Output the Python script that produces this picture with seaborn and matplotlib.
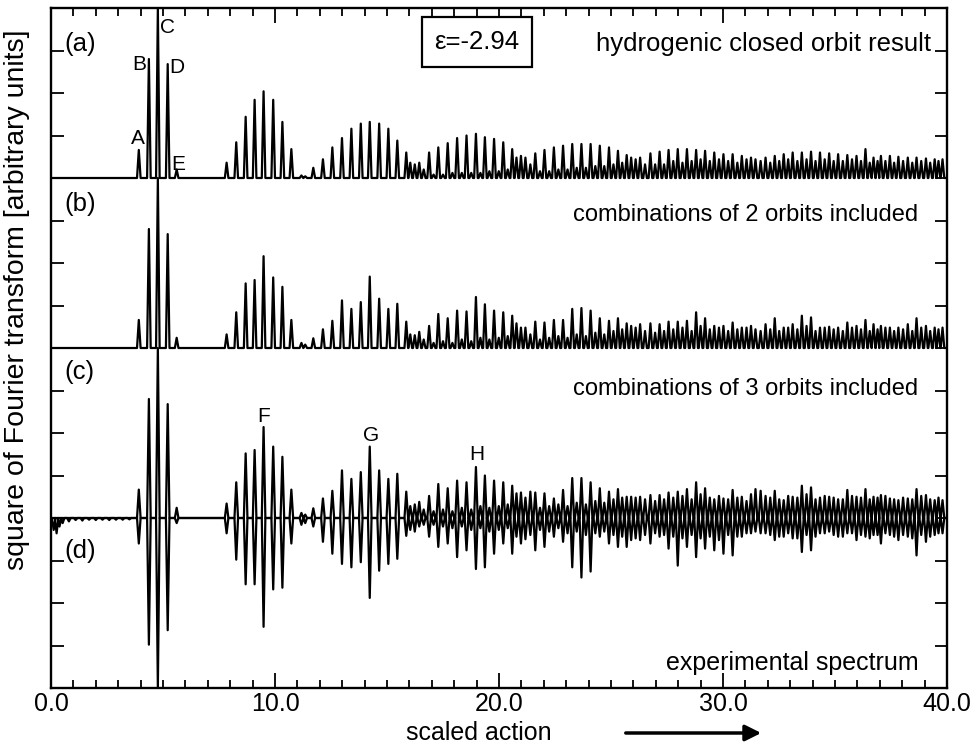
import numpy as np
import seaborn as sns
import matplotlib.pyplot as plt
from matplotlib.patches import FancyArrowPatch
from matplotlib.ticker import MultipleLocator, FormatStrFormatter

# Peak positions (scaled action) of the main closed-orbit peaks
peak_x = [3.92, 4.37, 4.77, 5.21, 5.61,
          7.84, 8.27, 8.69, 9.09, 9.49, 9.92, 10.33, 10.73,
          11.71, 12.14, 12.56, 12.99, 13.41, 13.83, 14.23, 14.65, 15.06, 15.46, 15.86,
          16.88, 17.29, 17.71, 18.13, 18.55, 18.97, 19.37, 19.78, 20.19, 20.59,
          21.62, 22.03, 22.45, 22.86, 23.27, 23.68, 24.09, 24.50, 24.91, 25.31, 25.70,
          26.76, 27.17, 27.57, 27.98, 28.39, 28.80, 29.20, 29.61, 30.02, 30.43, 30.84,
          31.90, 32.31, 32.71, 33.11, 33.52, 33.93, 34.33, 34.74, 35.14, 35.55, 35.96, 36.36,
          36.72, 37.05, 37.45, 37.83, 38.25, 38.64, 39.06, 39.45, 39.80]

# (a) hydrogenic closed orbit result
peak_a = [0.165, 0.70, 1.0, 0.67, 0.05,
          0.09, 0.21, 0.36, 0.46, 0.51, 0.46, 0.33, 0.17,
          0.06, 0.11, 0.18, 0.235, 0.29, 0.32, 0.33, 0.32, 0.29, 0.22, 0.15,
          0.15, 0.18, 0.205, 0.235, 0.25, 0.26, 0.24, 0.23, 0.21, 0.17,
          0.145, 0.165, 0.18, 0.19, 0.20, 0.20, 0.20, 0.19, 0.18, 0.16, 0.135,
          0.145, 0.155, 0.165, 0.17, 0.17, 0.165, 0.16, 0.15, 0.14, 0.14, 0.13,
          0.12, 0.13, 0.14, 0.15, 0.15, 0.155, 0.15, 0.145, 0.14, 0.135, 0.13, 0.17,
          0.12, 0.13, 0.13, 0.125, 0.12, 0.12, 0.115, 0.11, 0.11]

# (b) combinations of 2 orbits
peak_b = [0.165, 0.70, 1.0, 0.67, 0.06,
          0.08, 0.21, 0.38, 0.40, 0.54, 0.415, 0.36, 0.165,
          0.057, 0.11, 0.16, 0.28, 0.23, 0.27, 0.42, 0.29, 0.23, 0.26, 0.155,
          0.13, 0.20, 0.175, 0.22, 0.215, 0.30, 0.257, 0.22, 0.21, 0.19,
          0.155, 0.15, 0.165, 0.165, 0.23, 0.235, 0.22, 0.175, 0.16, 0.175, 0.145,
          0.145, 0.14, 0.155, 0.155, 0.16, 0.21, 0.175, 0.13, 0.13, 0.15, 0.12,
          0.14, 0.175, 0.12, 0.14, 0.19, 0.18, 0.12, 0.125, 0.12, 0.15, 0.13, 0.165,
          0.14, 0.13, 0.12, 0.12, 0.14, 0.175, 0.13, 0.12, 0.12]

# (c) combinations of 3 orbits
peak_c = [0.167, 0.70, 1.0, 0.67, 0.06,
          0.085, 0.21, 0.38, 0.40, 0.535, 0.42, 0.36, 0.167,
          0.057, 0.115, 0.16, 0.28, 0.23, 0.27, 0.42, 0.28, 0.23, 0.26, 0.155,
          0.13, 0.20, 0.175, 0.22, 0.21, 0.30, 0.25, 0.22, 0.21, 0.19,
          0.15, 0.145, 0.115, 0.165, 0.235, 0.235, 0.21, 0.175, 0.155, 0.17, 0.125,
          0.135, 0.135, 0.15, 0.155, 0.17, 0.21, 0.175, 0.11, 0.115, 0.165, 0.125,
          0.13, 0.16, 0.105, 0.125, 0.19, 0.18, 0.12, 0.125, 0.11, 0.165, 0.125, 0.17,
          0.125, 0.135, 0.115, 0.105, 0.115, 0.17, 0.135, 0.105, 0.105]

# (d) experimental spectrum, plotted downwards
peak_d = [-0.15, -0.745, -1.0, -0.66, -0.03,
          -0.09, -0.245, -0.39, -0.39, -0.64, -0.42, -0.41, -0.15,
          -0.05, -0.14, -0.21, -0.27, -0.29, -0.26, -0.47, -0.31, -0.27, -0.24, -0.105,
          -0.11, -0.17, -0.15, -0.23, -0.19, -0.30, -0.29, -0.21, -0.15, -0.21,
          -0.19, -0.17, -0.11, -0.14, -0.29, -0.35, -0.315, -0.11, -0.15, -0.17, -0.17,
          -0.15, -0.11, -0.18, -0.28, -0.17, -0.23, -0.18, -0.19, -0.21, -0.22, -0.11,
          -0.09, -0.13, -0.11, -0.12, -0.20, -0.19, -0.09, -0.08, -0.11, -0.09, -0.13, -0.11,
          -0.10, -0.15, -0.10, -0.13, -0.11, -0.22, -0.14, -0.10, -0.09]

# Smaller peaks between the main ones
sub_x = [11.18, 11.35, 16.04, 16.24, 16.44, 16.64,
         17.08, 17.50, 17.92, 18.34, 18.76, 19.17, 19.57, 19.99, 20.39,
         20.78, 20.98, 21.18, 21.40,
         21.83, 22.24, 22.65, 23.06, 23.47, 23.88, 24.30, 24.70, 25.11, 25.50,
         25.90, 26.10, 26.30, 26.52,
         26.97, 27.37, 27.78, 28.19, 28.60, 29.00, 29.41, 29.82, 30.23, 30.64,
         31.05, 31.25, 31.45, 31.68,
         32.11, 32.51, 32.91, 33.32, 33.73, 34.13, 34.54, 34.94, 35.35, 35.76, 36.16, 36.55,
         36.90, 37.25, 37.64, 38.04, 38.45, 38.85, 39.25, 39.62]

sub_a = [0.015, 0.01, 0.09, 0.08, 0.09, 0.05,
         0.02, 0.02, 0.03, 0.03, 0.03, 0.03, 0.04, 0.04, 0.05,
         0.12, 0.13, 0.12, 0.08,
         0.04, 0.04, 0.05, 0.05, 0.06, 0.06, 0.07, 0.07, 0.08, 0.09,
         0.12, 0.11, 0.12, 0.08,
         0.08, 0.08, 0.10, 0.09, 0.10, 0.11, 0.10, 0.11, 0.10, 0.09,
         0.11, 0.12, 0.11, 0.10,
         0.09, 0.10, 0.11, 0.10, 0.11, 0.10, 0.11, 0.10, 0.10, 0.11, 0.10, 0.09,
         0.10, 0.10, 0.09, 0.10, 0.09, 0.10, 0.09, 0.10]

sub_b = [0.03, 0.02, 0.08, 0.075, 0.095, 0.05,
         0.03, 0.04, 0.03, 0.05, 0.04, 0.06, 0.05, 0.06, 0.07,
         0.145, 0.12, 0.12, 0.08,
         0.05, 0.06, 0.07, 0.06, 0.08, 0.07, 0.09, 0.08, 0.10, 0.11,
         0.13, 0.12, 0.14, 0.10,
         0.09, 0.10, 0.11, 0.12, 0.10, 0.13, 0.11, 0.12, 0.10, 0.11,
         0.12, 0.13, 0.11, 0.10,
         0.11, 0.10, 0.12, 0.11, 0.13, 0.10, 0.12, 0.11, 0.10, 0.12, 0.11, 0.10,
         0.11, 0.12, 0.10, 0.11, 0.10, 0.12, 0.10, 0.11]

sub_c = [0.03, 0.02, 0.07, 0.08, 0.095, 0.05,
         0.04, 0.05, 0.04, 0.06, 0.05, 0.07, 0.06, 0.07, 0.08,
         0.145, 0.15, 0.12, 0.155,
         0.06, 0.07, 0.08, 0.07, 0.09, 0.08, 0.10, 0.09, 0.11, 0.12,
         0.125, 0.12, 0.125, 0.11,
         0.10, 0.11, 0.12, 0.13, 0.11, 0.14, 0.12, 0.13, 0.11, 0.12,
         0.10, 0.14, 0.17, 0.16,
         0.12, 0.11, 0.13, 0.12, 0.14, 0.11, 0.13, 0.12, 0.11, 0.13, 0.12, 0.11,
         0.12, 0.13, 0.11, 0.12, 0.11, 0.13, 0.11, 0.12]

sub_d = [-0.04, -0.03, -0.07, -0.08, -0.05, -0.04,
         -0.04, -0.05, -0.06, -0.05, -0.07, -0.06, -0.08, -0.07, -0.06,
         -0.11, -0.15, -0.125, -0.10,
         -0.07, -0.08, -0.06, -0.09, -0.08, -0.10, -0.09, -0.08, -0.10, -0.11,
         -0.13, -0.12, -0.13, -0.10,
         -0.09, -0.10, -0.11, -0.12, -0.10, -0.12, -0.11, -0.13, -0.10, -0.11,
         -0.09, -0.09, -0.08, -0.09,
         -0.10, -0.11, -0.09, -0.12, -0.10, -0.11, -0.09, -0.10, -0.11, -0.09, -0.10, -0.12,
         -0.10, -0.09, -0.11, -0.10, -0.12, -0.10, -0.11, -0.09]

# low-action noise in the experimental data
low_x = [0.12, 0.25, 0.38, 0.52, 0.80, 1.10, 1.40, 1.70, 2.00, 2.30, 2.60, 2.90, 3.20, 3.50]
low_d = [-0.07, -0.09, -0.05, -0.03, -0.02, -0.012, -0.015, -0.01, -0.012,
         -0.01, -0.012, -0.01, -0.01, -0.008]

panel_offset = {"a": 2.0, "b": 1.0, "c": 0.0, "d": 0.0}


def spike_trace(xs, hs, offset, w=0.08):
    """Turn a list of peaks into a spiky line on a given baseline"""
    order = np.argsort(xs)
    px, py = [0.0], [offset]
    for i in order:
        px += [xs[i] - w, xs[i], xs[i] + w]
        py += [offset, offset + hs[i], offset]
    px.append(40.0)
    py.append(offset)
    return px, py


sns.set_theme(style="ticks")
plt.rcParams['font.family'] = ['Liberation Sans', 'DejaVu Sans']
plt.rcParams['text.color'] = 'black'
plt.rcParams['axes.labelcolor'] = 'black'
plt.rcParams['xtick.color'] = 'black'
plt.rcParams['ytick.color'] = 'black'

fig = plt.figure(figsize=(9.71, 7.45), dpi=100)
ax = fig.add_axes([51 / 971, 57 / 745, 896 / 971, 680 / 745])

traces = {
    "a": (peak_x + sub_x, peak_a + sub_a),
    "b": (peak_x + sub_x, peak_b + sub_b),
    "c": (peak_x + sub_x, peak_c + sub_c),
    "d": (low_x + peak_x + sub_x, low_d + peak_d + sub_d),
}
for key, (xs, hs) in traces.items():
    px, py = spike_trace(xs, hs, panel_offset[key])
    sns.lineplot(x=px, y=py, sort=False, estimator=None, color="black",
                 lw=1.6, ax=ax)

ax.set_xlim(0, 40)
ax.set_ylim(-1, 3)
ax.xaxis.set_major_locator(MultipleLocator(10))
ax.xaxis.set_minor_locator(MultipleLocator(1))
ax.xaxis.set_major_formatter(FormatStrFormatter("%.1f"))
ax.yaxis.set_major_locator(MultipleLocator(0.25))
ax.set_yticklabels([])
ax.tick_params(axis="both", which="both", direction="in", top=True, right=True,
               colors="black", width=1.3)
ax.tick_params(axis="x", which="major", length=11, labelsize=18, pad=3)
ax.tick_params(axis="x", which="minor", length=6)
ax.tick_params(axis="y", which="major", length=9)
for sp in ax.spines.values():
    sp.set_linewidth(1.7)
    sp.set_color("black")

big = 18.5
# panel labels
for lab, y in [("(a)", 2.79), ("(b)", 1.85), ("(c)", 0.86), ("(d)", -0.195)]:
    ax.text(0.6, y, lab, fontsize=big, va="center", ha="left")

# peak letters
for lab, x, y in [("A", 3.88, 2.23), ("B", 3.96, 2.665), ("C", 5.21, 2.885),
                  ("D", 5.63, 2.65), ("E", 5.68, 2.08), ("F", 9.49, 0.60),
                  ("G", 14.3, 0.485), ("H", 19.0, 0.374)]:
    ax.text(x, y, lab, fontsize=15, ha="center", va="center")

ax.text(19.02, 2.80, "ε=-2.94", fontsize=big, ha="center", va="center",
        bbox=dict(boxstyle="square,pad=0.5", fc="white", ec="black", lw=1.6))

ax.text(39.3, 2.79, "hydrogenic closed orbit result", fontsize=big, ha="right", va="center")
ax.text(38.7, 1.78, "combinations of 2 orbits included", fontsize=17, ha="right", va="center")
ax.text(38.7, 0.76, "combinations of 3 orbits included", fontsize=17, ha="right", va="center")
ax.text(38.75, -0.853, "experimental spectrum", fontsize=18, ha="right", va="center")

fig.text(17 / 971, 1 - 300 / 745, "square of Fourier transform [arbitrary units]",
         rotation=90, fontsize=20.5, ha="center", va="center")
fig.text(479 / 971, 1 - 733 / 745, "scaled action", fontsize=18, ha="center", va="center")
fig.add_artist(FancyArrowPatch(
    (623 / 971, 1 - 733 / 745), (764 / 971, 1 - 733 / 745),
    transform=fig.transFigure, arrowstyle="-|>", mutation_scale=24,
    lw=2.5, color="black"))

fig.savefig("out.png", dpi=100)
